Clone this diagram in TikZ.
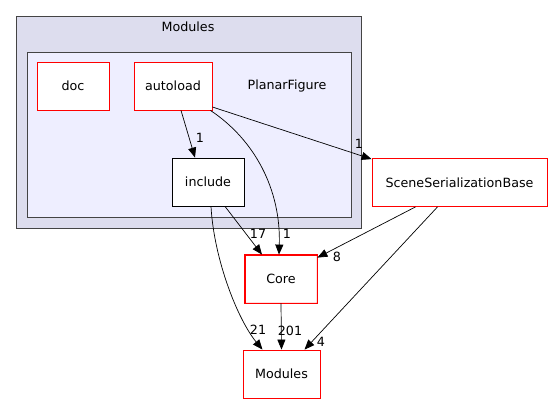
\documentclass[tikz,border=0pt]{standalone}
\usepackage{fontspec}
\setmainfont{DejaVu Sans}
\usetikzlibrary{arrows.meta,positioning}
\definecolor{outerFill}{RGB}{221,221,238}
\definecolor{innerFill}{RGB}{238,238,255}
\definecolor{frameGray}{RGB}{68,68,68}
\definecolor{dirRed}{RGB}{255,0,0}
\begin{document}
\begin{tikzpicture}[x=1pt,y=-1pt,
  every node/.style={font=\fontsize{12.7}{15}\selectfont},
  dirbox/.style={draw=dirRed, fill=white, line width=0.8pt, minimum height=48pt, inner sep=0pt},
  subbox/.style={draw=black, fill=white, line width=0.8pt, minimum height=48pt, inner sep=0pt},
  flow/.style={-{Triangle[length=10pt,width=8pt]}, line width=0.7pt},
  num/.style={inner sep=0pt, font=\fontsize{12.7}{15}\selectfont}]
\useasboundingbox (0,0) rectangle (553,404);

% The two nested clusters
\draw[fill=outerFill, draw=frameGray, line width=0.9pt] (16,16) rectangle (361,228);
\node (outerLabel) at (188,27) {Modules};
\draw[fill=innerFill, draw=frameGray, line width=0.9pt] (27,52) rectangle (351,217);
\node (innerLabel) at (287,86) {PlanarFigure};

% Directory nodes
\node[dirbox, minimum width=72pt] (doc) at (73,86) {doc};
\node[dirbox, minimum width=78pt] (autoload) at (173,86) {autoload};
\node[subbox, minimum width=72pt] (include) at (208,182) {include};
\node[dirbox, minimum width=175pt] (sceneBase) at (459.5,182.5) {SceneSerializationBase};
\node[dirbox, minimum width=72pt] (coreDir) at (281,279) {Core};
\node[dirbox, minimum width=77pt] (modules) at (281.5,374) {Modules};

% Core frame as a filled ring
\fill[dirRed, even odd rule] ([shift={(-0.5pt,-0.5pt)}]coreDir.south west) rectangle ([shift={(0.5pt,0.5pt)}]coreDir.north east)
  ([shift={(0.5pt,0.5pt)}]coreDir.south west) rectangle ([shift={(-0.5pt,-0.5pt)}]coreDir.north east);

% Dependencies between the directories
\draw[flow] ([xshift=8pt]autoload.south) -- ([xshift=-13pt]include.north);
\draw[flow] ([xshift=-2pt]autoload.south east) .. controls (255,140) and (281,190) .. ([xshift=-2pt]coreDir.north);
\draw[flow] ([yshift=-21pt]autoload.east) -- ([yshift=-1pt]sceneBase.north west);
\draw[flow] ([xshift=17pt]include.south) -- ([xshift=-19pt]coreDir.north);
\draw[flow] ([xshift=3pt]include.south) .. controls (214,260) and (238,320) .. ([xshift=-19pt]modules.north);
\draw[flow] (coreDir.south) -- (modules.north);
\draw[flow] ([xshift=-44pt]sceneBase.south) -- ([yshift=-3pt]coreDir.north east);
\draw[flow] ([xshift=-22pt]sceneBase.south) -- ([xshift=23pt]modules.north);

% Edge counts
\node[num] (n1) at (200,138) {1};
\node[num] (n2) at (287,234) {1};
\node[num] (n3) at (359,144) {1};
\node[num] (n4) at (258,234) {17};
\node[num] (n5) at (258,330) {21};
\node[num] (n6) at (290,331) {201};
\node[num] (n7) at (337,257) {8};
\node[num] (n8) at (321,342) {4};

\end{tikzpicture}
\end{document}
